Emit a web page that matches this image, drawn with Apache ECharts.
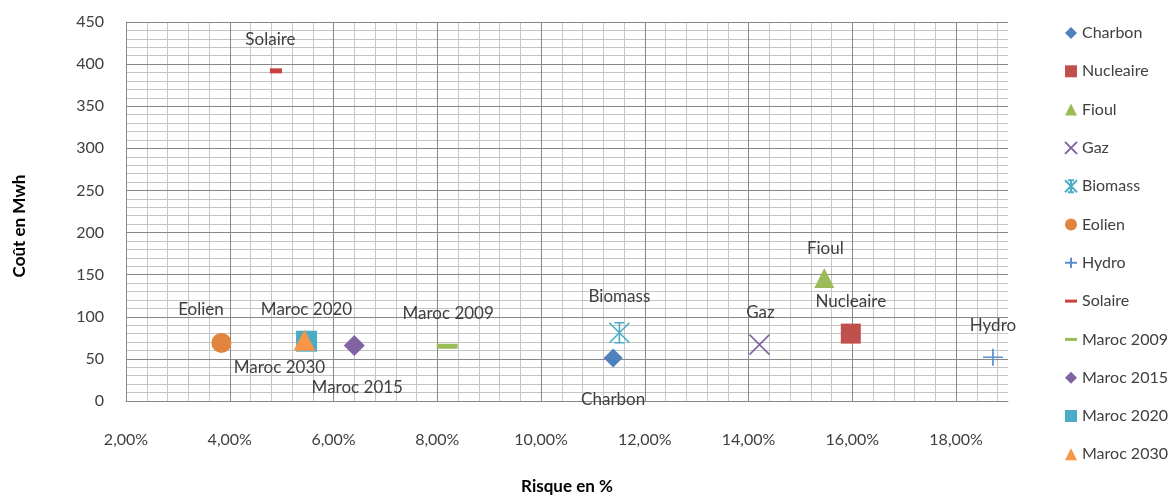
<!DOCTYPE html>
<html>
<head>
<meta charset="utf-8">
<script src="https://cdn.jsdelivr.net/npm/echarts@6/dist/echarts.min.js"></script>
<style>
  html, body { margin: 0; padding: 0; background: #ffffff; }
  #chart { width: 1170px; height: 500px; }
</style>
</head>
<body>
<div id="chart"></div>
<script>
// ---- data ----
const seriesNames = ['Charbon', 'Nucleaire', 'Fioul', 'Gaz', 'Biomass', 'Eolien', 'Hydro', 'Solaire', 'Maroc 2009', 'Maroc 2015', 'Maroc 2020', 'Maroc 2030'];
const riskPct = [11.39, 15.97, 15.46, 14.21, 11.51, 3.84, 18.71, 4.89, 8.19, 6.40, 5.48, 5.44];
const costMwh = [51, 80, 146, 67, 81, 69, 52, 392, 65, 66, 71, 72];
const xRange = [2, 19];      // Risque en %
const xMajor = 2, xMinor = 0.4;
const yRange = [0, 450];     // Coût
const yMajor = 50, yMinor = 10;
const xTitle = 'Risque en %';
const yTitle = 'Coût en Mwh';

// ---- styles ----
const X_PATH = 'path://M0,0L20,20M20,0L0,20';
const STAR_PATH = 'path://M0,0L20,20M20,0L0,20M10,0L10,20M5,0L15,0M5,20L15,20';
const PLUS_PATH = 'path://M10,0L10,17M0,8.5L20,8.5';
const DASH_ICON = 'path://M0,0H14V3.5H0Z';
const styles = {
  'Charbon':    { color: '#4F81BD', symbol: 'diamond', size: 19, off: [0, 41] },
  'Nucleaire':  { color: '#C0504D', symbol: 'rect', size: 20, off: [0, -32] },
  'Fioul':      { color: '#9BBB59', symbol: 'triangle', size: 20, off: [1, -30] },
  'Gaz':        { color: '#8064A2', symbol: X_PATH, size: 20, stroke: true, off: [1, -32] },
  'Biomass':    { color: '#4BACC6', symbol: STAR_PATH, size: 20, stroke: true, off: [0, -36] },
  'Eolien':     { color: '#E0843E', symbol: 'circle', size: 20, off: [-20.5, -33] },
  'Hydro':      { color: '#5B8FD0', symbol: PLUS_PATH, size: [20, 17], stroke: true, off: [0, -32] },
  'Solaire':    { color: '#C8413E', symbol: 'rect', size: [12, 5], icon: DASH_ICON, off: [-5.5, -31] },
  'Maroc 2009': { color: '#9BBB59', symbol: 'rect', size: [21, 5], icon: DASH_ICON, off: [1, -33] },
  'Maroc 2015': { color: '#8064A2', symbol: 'diamond', size: 21, off: [3, 42] },
  'Maroc 2020': { color: '#4BACC6', symbol: 'rect', size: 21, off: [0, -32] },
  'Maroc 2030': { color: '#F79646', symbol: 'triangle', size: [22, 21], off: [-25, 27] }
};

const FONT = 'Lato, "Open Sans", sans-serif';
const TXT = '#404040';
const MAJOR = '#878787';
const MINOR = '#c4c4c4';

const fmtPct = v => v.toFixed(2).replace('.', ',') + '%';

const series = seriesNames.map((name, i) => {
  const st = styles[name];
  const itemStyle = st.stroke
    ? { color: st.color, borderColor: st.color, borderWidth: 1.6, opacity: 1 }
    : { color: st.color, opacity: 1 };
  return {
    name: name,
    type: 'scatter',
    xAxisIndex: 1,
    yAxisIndex: 1,
    symbol: st.symbol,
    symbolSize: st.size,
    itemStyle: itemStyle,
    data: [[riskPct[i], costMwh[i]]],
    label: {
      show: true,
      formatter: '{a}',
      position: 'inside',
      offset: st.off,
      color: TXT,
      fontFamily: FONT,
      fontSize: 17
    },
    emphasis: { disabled: true },
    z: 3 + i
  };
});

const legendData = seriesNames.map(name => {
  const st = styles[name];
  return st.icon ? { name: name, icon: st.icon } : { name: name };
});

const option = {
  animation: false,
  backgroundColor: '#ffffff',
  textStyle: { fontFamily: FONT },
  grid: { left: 126, right: 162, top: 22, bottom: 93.5, containLabel: false,
          show: false },
  xAxis: [
    { // minor grid
      type: 'value', position: 'bottom', min: xRange[0], max: xRange[1], interval: xMinor,
      axisLine: { show: false }, axisTick: { show: false }, axisLabel: { show: false },
      splitLine: { show: true, showMaxLine: false, lineStyle: { color: MINOR, width: 1 } },
      z: 0
    },
    { // major
      type: 'value', position: 'bottom', min: xRange[0], max: xRange[1], interval: xMajor,
      name: xTitle, nameLocation: 'middle', nameGap: 77,
      nameTextStyle: { fontFamily: FONT, fontSize: 17, fontWeight: 'bold', color: '#000' },
      axisLine: { show: true, onZero: false, lineStyle: { color: MAJOR, width: 1 } },
      axisTick: { show: false },
      axisLabel: { show: true, showMaxLabel: false, margin: 31, color: TXT, fontFamily: FONT, fontSize: 16,
                   formatter: v => fmtPct(v) },
      splitLine: { show: true, showMaxLine: false, lineStyle: { color: MAJOR, width: 1 } },
      z: 1
    }
  ],
  yAxis: [
    {
      type: 'value', position: 'left', min: yRange[0], max: yRange[1], interval: yMinor,
      axisLine: { show: false }, axisTick: { show: false }, axisLabel: { show: false },
      splitLine: { show: true, lineStyle: { color: MINOR, width: 1 } },
      z: 0
    },
    {
      type: 'value', position: 'left', min: yRange[0], max: yRange[1], interval: yMajor,
      axisLine: { show: true, onZero: false, lineStyle: { color: MAJOR, width: 1 } },
      axisTick: { show: false },
      axisLabel: { show: true, margin: 22, color: TXT, fontFamily: FONT, fontSize: 16 },
      splitLine: { show: true, lineStyle: { color: MAJOR, width: 1 } },
      z: 1
    }
  ],
  legend: {
    orient: 'vertical',
    left: 1059,
    top: 20,
    itemWidth: 12,
    itemHeight: 12,
    itemGap: 22.3,
    textStyle: { color: TXT, fontFamily: FONT, fontSize: 16 },
    data: legendData,
    selectedMode: false
  },
  graphic: [
    {
      type: 'text',
      x: 20, y: 226,
      rotation: Math.PI / 2,
      style: {
        text: yTitle,
        fill: '#000',
        font: 'bold 17px ' + FONT,
        align: 'center',
        verticalAlign: 'middle'
      }
    }
  ],
  series: series
};

const chart = echarts.init(document.getElementById('chart'), null, { renderer: 'canvas' });
chart.setOption(option);
</script>
</body>
</html>
